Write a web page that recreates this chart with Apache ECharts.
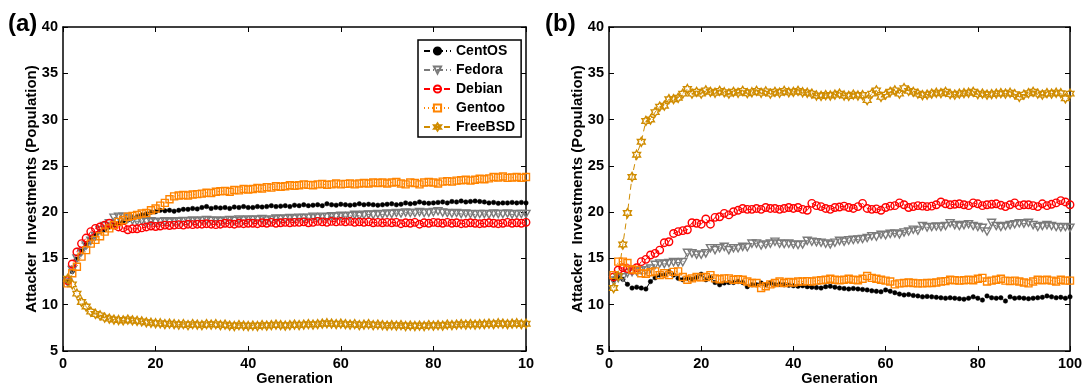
<!DOCTYPE html>
<html><head><meta charset="utf-8">
<script src="https://cdn.jsdelivr.net/npm/echarts@6/dist/echarts.min.js"></script>
<style>html,body{margin:0;padding:0;background:#fff}#c{width:1083px;height:386px}</style>
</head><body><div id="c"></div>
<script>
// ---- data (generation 1..100) ----
const seriesNames = ['CentOS','Fedora','Debian','Gentoo','FreeBSD'];
const yTicks = [5,10,15,20,25,30,35,40];
const xTicksA = [0,20,40,60,80,100];
const xTickLabelsA = ['0','20','40','60','80','10'];
const xTickLabelsB = ['0','20','40','60','80','100'];

// panel (a)
const centosA = [12.5,13.6,14.9,15.9,16.6,17.2,17.5,17.9,18.1,18.4,
18.6,18.8,19.0,19.15,19.4,19.5,19.7,19.8,20.0,20.05,
20.2,20.15,20.2,20.1,20.2,20.3,20.3,20.4,20.35,20.5,
20.6,20.4,20.5,20.45,20.5,20.4,20.55,20.5,20.6,20.5,
20.5,20.6,20.55,20.6,20.7,20.6,20.65,20.7,20.6,20.75,
20.7,20.8,20.7,20.75,20.8,20.7,20.9,20.8,20.75,20.85,
20.8,20.75,20.8,20.9,20.8,20.85,20.8,20.75,20.8,20.85,
20.9,20.8,20.85,21.0,20.9,20.95,21.1,21.0,20.95,21.0,
21.05,21.1,21.0,21.15,21.1,21.2,21.1,21.15,21.2,21.15,
21.1,21.0,21.05,20.95,21.0,21.0,21.05,21.0,21.05,21.0];
const fedoraA = [12.4,13.75,15.0,15.7,16.4,16.9,17.4,18.07,18.5,18.8,
19.4,19.5,19.5,19.3,19.1,19.0,19.05,18.95,19.0,18.9,
18.95,19.0,18.9,19.0,18.95,19.05,19.0,19.1,19.0,19.1,
19.15,19.05,19.1,19.0,19.1,19.15,19.05,19.2,19.1,19.2,
19.15,19.2,19.25,19.1,19.2,19.3,19.25,19.3,19.35,19.3,
19.4,19.35,19.4,19.5,19.4,19.5,19.45,19.55,19.5,19.6,
19.55,19.6,19.7,19.6,19.7,19.75,19.7,19.8,19.75,19.85,
19.8,19.9,19.85,19.95,19.9,19.9,20.0,19.9,19.95,20.0,
20.1,19.95,19.9,19.85,19.9,19.8,19.85,19.8,19.75,19.8,
19.8,19.75,19.85,19.8,19.8,19.85,19.75,19.8,19.8,19.8];
const debianA = [12.6,14.4,15.7,16.6,17.2,17.9,18.25,18.4,18.6,18.8,
18.6,18.4,18.3,18.1,18.2,18.2,18.3,18.4,18.5,18.45,
18.5,18.6,18.55,18.6,18.65,18.6,18.7,18.65,18.7,18.7,
18.75,18.7,18.65,18.7,18.8,18.75,18.7,18.8,18.75,18.8,
18.8,18.75,18.85,18.8,18.9,18.8,18.85,18.9,18.85,18.9,
18.9,18.95,18.85,18.9,19.0,18.95,18.9,19.0,18.95,19.0,
18.95,19.0,18.9,18.95,18.9,18.95,18.85,18.9,18.85,18.9,
18.85,18.9,18.75,18.85,18.8,18.9,18.7,18.85,18.8,18.9,
18.85,18.8,18.9,18.8,18.85,18.75,18.8,18.85,18.8,18.75,
18.8,18.85,18.8,18.75,18.8,18.9,18.8,18.85,18.8,18.9];
const gentooA = [12.3,13.4,14.1,15.2,15.9,16.6,17.0,17.4,17.9,18.25,
18.6,18.95,19.15,19.5,19.6,19.7,19.85,19.9,20.2,20.4,
20.7,21.0,21.4,21.7,21.8,21.85,21.8,21.9,21.95,22.0,
22.1,22.05,22.2,22.25,22.3,22.2,22.4,22.35,22.5,22.45,
22.5,22.6,22.55,22.7,22.65,22.8,22.75,22.8,22.9,22.85,
22.9,23.0,22.95,22.9,23.0,23.05,22.95,23.0,23.1,23.0,
23.05,23.1,23.0,23.1,23.15,23.1,23.2,23.15,23.2,23.1,
23.2,23.25,23.1,23.0,23.2,23.15,23.0,23.2,23.25,23.2,
23.1,23.3,23.35,23.3,23.4,23.45,23.5,23.4,23.5,23.6,
23.55,23.65,23.8,23.75,23.85,23.7,23.75,23.8,23.7,23.8];
const freebsdA = [12.8,12.2,11.2,10.3,9.8,9.25,9.0,8.85,8.6,8.5,
8.4,8.35,8.3,8.4,8.3,8.25,8.2,8.1,8.05,8.0,
8.0,7.9,7.95,7.9,7.85,7.9,7.8,7.9,7.85,7.8,
7.9,7.85,7.9,7.8,7.85,7.75,7.7,7.8,7.75,7.7,
7.75,7.7,7.8,7.75,7.8,7.85,7.8,7.75,7.8,7.85,
7.8,7.85,7.9,7.85,7.9,7.95,8.0,7.95,7.9,7.95,
7.9,7.85,7.9,7.8,7.85,7.9,7.8,7.85,7.8,7.75,
7.8,7.75,7.8,7.7,7.75,7.7,7.75,7.7,7.8,7.75,
7.8,7.75,7.85,7.8,7.85,7.9,7.85,7.9,7.85,7.9,
7.9,7.95,7.9,8.0,7.95,7.9,7.95,8.0,7.9,7.95];

// panel (b)
const centosB = [12.7,13.0,12.75,12.2,11.8,11.9,11.8,11.7,12.5,12.9,
13.2,13.2,13.6,13.2,12.85,12.7,12.85,12.75,12.95,13.3,
12.7,12.95,12.4,12.15,12.35,12.4,12.4,12.5,12.4,11.95,
12.15,12.15,12.35,12.15,12.35,12.15,12.2,12.15,12.1,12.05,
12.0,12.05,11.95,11.9,11.85,11.8,11.95,12.0,11.9,11.8,
11.75,11.7,11.75,11.7,11.65,11.6,11.5,11.45,11.4,11.6,
11.45,11.3,11.15,11.05,11.1,11.0,10.95,10.85,10.9,10.85,
10.8,10.75,10.7,10.75,10.7,10.65,10.6,10.7,10.85,10.7,
10.5,10.95,10.75,10.7,10.75,10.4,10.85,10.7,10.75,10.7,
10.65,10.7,10.75,10.8,10.95,10.85,10.75,10.8,10.7,10.85];
const fedoraB = [12.6,12.85,12.95,13.4,13.5,13.6,13.7,13.7,13.9,14.3,
14.45,14.4,14.5,14.6,14.55,14.6,15.6,15.55,15.4,15.4,
15.55,16.1,15.9,16.1,16.25,15.9,16.1,16.1,16.25,16.2,
16.6,16.6,16.4,16.5,16.6,16.8,16.6,16.55,16.6,16.5,
16.45,16.5,16.9,16.8,16.75,16.7,16.6,16.5,16.7,16.9,
16.8,16.95,17.0,17.05,17.1,17.2,17.4,17.35,17.55,17.5,
17.65,17.7,17.6,17.8,17.9,18.1,18.0,18.5,18.35,18.4,
18.45,18.4,18.5,18.8,18.6,18.5,18.6,18.7,18.5,18.4,
18.3,17.9,18.85,18.5,18.4,18.5,18.6,18.7,18.8,18.75,
18.85,18.6,18.4,18.5,18.6,18.5,18.4,18.35,18.4,18.3];
const debianB = [13.0,13.75,14.0,13.9,13.75,14.0,14.65,14.9,15.37,15.55,
15.9,16.7,16.8,17.7,17.9,18.0,18.1,18.86,18.8,18.7,
19.26,18.7,19.44,19.5,19.87,19.7,20.05,20.2,20.4,20.3,
20.3,20.4,20.3,20.5,20.4,20.4,20.3,20.4,20.5,20.4,
20.5,20.3,20.2,20.95,20.7,20.6,20.4,20.3,20.5,20.55,
20.65,20.5,20.4,20.6,20.95,20.4,20.3,20.35,20.2,20.5,
20.65,20.7,21.0,20.8,20.5,20.6,20.7,20.65,20.6,20.65,
20.8,21.1,20.9,20.8,20.85,20.9,20.8,20.7,21.0,20.9,
20.7,20.8,20.85,20.9,20.75,20.6,20.8,21.0,20.7,20.8,
20.8,20.7,20.6,20.9,20.7,20.85,21.0,21.24,21.1,20.8];
const gentooB = [13.2,14.65,14.65,14.5,13.8,13.75,13.4,13.35,13.5,13.6,
13.2,13.4,13.2,13.55,13.6,13.0,12.7,12.85,13.0,12.95,
13.0,13.2,12.85,12.75,12.85,12.85,12.7,12.75,12.7,12.5,
12.35,12.35,11.8,12.0,12.2,12.35,12.5,12.35,12.45,12.4,
12.5,12.5,12.55,12.5,12.6,12.65,12.7,12.8,12.7,12.65,
12.7,12.8,12.7,12.65,12.8,13.1,12.9,12.8,12.7,12.6,
12.5,12.2,12.3,12.35,12.4,12.35,12.3,12.3,12.35,12.35,
12.4,12.5,12.55,12.7,12.65,12.6,12.65,12.7,12.65,12.8,
12.9,12.5,12.6,12.7,12.8,12.6,12.55,12.6,12.5,12.4,
12.3,12.5,12.7,12.65,12.7,12.6,12.5,12.7,12.6,12.6];
const freebsdB = [11.8,13.1,16.5,19.9,23.8,26.2,27.6,29.85,30.0,30.8,
31.4,31.5,32.2,32.2,32.35,32.8,33.3,32.8,33.0,32.8,
33.15,33.0,32.9,33.1,32.95,32.8,33.0,32.9,33.1,32.85,
32.95,33.1,32.9,33.05,32.8,33.0,32.9,33.1,32.95,33.0,
33.1,32.95,32.9,32.8,32.6,32.55,32.65,32.6,32.7,32.8,
32.6,32.55,32.7,32.6,32.65,32.1,32.8,33.15,32.45,32.7,
33.0,33.15,32.8,33.4,33.1,33.0,32.8,32.65,32.7,32.8,
32.9,32.85,33.0,32.75,32.7,32.8,32.85,32.9,33.0,32.75,
32.8,32.7,32.75,32.8,32.85,32.8,32.9,32.75,32.45,32.7,
32.85,33.0,32.8,32.7,32.85,32.8,32.9,32.85,32.3,32.8];

// ---- styles ----
const FONT = '"Liberation Sans", Arial, Helvetica, sans-serif';
const TRI = 'path://M0,0 L10,0 L5,9 Z';
const HEX = 'path://M5,0 L6.443,2.5 L9.33,2.5 L7.887,5 L9.33,7.5 L6.443,7.5 L5,10 L3.557,7.5 L0.67,7.5 L2.113,5 L0.67,2.5 L3.557,2.5 Z';
const styles = {
  CentOS:  {color:'#000000', symbol:'circle', size:4.5, filled:true,  dash:[6,3,1,3]},
  Fedora:  {color:'#7a7a7a', symbol:TRI,      size:8, filled:false, dash:[6,3,1,3]},
  Debian:  {color:'#ff0000', symbol:'circle', size:7.5, filled:false, dash:[6,4]},
  Gentoo:  {color:'#ff8400', symbol:'rect',   size:7, filled:false, dash:[1,3]},
  FreeBSD: {color:'#d08c00', symbol:HEX,      size:9, filled:false, dash:[6,4]}
};

function pairs(arr){ return arr.map((v,i)=>[i+1,v]); }

function mkSeries(name, arr, gi){
  const s = styles[name];
  return {
    name, type:'line', xAxisIndex:gi*2, yAxisIndex:gi*2, data:pairs(arr),
    symbol:s.symbol, symbolSize:s.size, symbolKeepAspect:true, showAllSymbol:true,
    color:s.color,
    lineStyle:{color:s.color, width:1, type:s.dash},
    itemStyle:{color: s.filled ? s.color : 'rgba(255,255,255,0)', borderColor:s.color, borderWidth: s.filled?0.5:1.4},
    emphasis:{disabled:true}, animation:false, z: 2
  };
}

function xAxes(gi, labels){
  return [
    {type:'value', gridIndex:gi, min:0, max:100, interval:20, position:'bottom',
     name:'Generation', nameLocation:'middle', nameGap:20, nameMoveOverlap:false,
     nameTextStyle:{fontFamily:FONT, fontWeight:'bold', fontSize:14.5, color:'#000'},
     axisLine:{onZero:false, lineStyle:{color:'#000', width:1.5}},
     axisTick:{inside:true, length:5, lineStyle:{color:'#000', width:1}},
     axisLabel:{fontFamily:FONT, fontWeight:'bold', fontSize:14.5, color:'#000', margin:5,
       formatter:(v)=>labels[xTicksA.indexOf(v)]},
     splitLine:{show:false}},
    {type:'value', gridIndex:gi, min:0, max:100, interval:20, position:'top',
     axisLine:{onZero:false, lineStyle:{color:'#000', width:1.5}},
     axisTick:{inside:true, length:5, lineStyle:{color:'#000', width:1}},
     axisLabel:{show:false}, splitLine:{show:false}}
  ];
}
function yAxes(gi){
  return [
    {type:'value', gridIndex:gi, min:5, max:40, interval:5, position:'left',
     name:'Attacker  Investments (Population)', nameLocation:'middle', nameGap:24, nameMoveOverlap:false,
     nameTextStyle:{fontFamily:FONT, fontWeight:'bold', fontSize:15, color:'#000'},
     axisLine:{onZero:false, lineStyle:{color:'#000', width:1.5}},
     axisTick:{inside:true, length:5, lineStyle:{color:'#000', width:1}},
     axisLabel:{fontFamily:FONT, fontWeight:'bold', fontSize:14.5, color:'#000', margin:5,
       formatter:(v)=> yTicks.includes(v) ? String(v) : ''},
     splitLine:{show:false}},
    {type:'value', gridIndex:gi, min:5, max:40, interval:5, position:'right',
     axisLine:{onZero:false, lineStyle:{color:'#000', width:1.5}},
     axisTick:{inside:true, length:5, lineStyle:{color:'#000', width:1}},
     axisLabel:{show:false}, splitLine:{show:false}}
  ];
}

const chart = echarts.init(document.getElementById('c'), null, {renderer:'canvas'});
const dataA = {CentOS:centosA, Fedora:fedoraA, Debian:debianA, Gentoo:gentooA, FreeBSD:freebsdA};
const dataB = {CentOS:centosB, Fedora:fedoraB, Debian:debianB, Gentoo:gentooB, FreeBSD:freebsdB};
const series = [];
seriesNames.forEach(n=>series.push(mkSeries(n, dataA[n], 0)));
seriesNames.forEach(n=>{ const s = mkSeries(n, dataB[n], 1); s.name = n + ' '; series.push(s); });

chart.setOption({
  backgroundColor:'#fff',
  animation:false,
  grid:[
    {left:63, right:557, top:27, bottom:35, containLabel:false, outerBoundsMode:'none'},
    {left:609, right:13, top:27, bottom:35, containLabel:false, outerBoundsMode:'none'}
  ],
  xAxis:[...xAxes(0, xTickLabelsA), ...xAxes(1, xTickLabelsB)],
  yAxis:[...yAxes(0), ...yAxes(1)],
  legend:{
    data:seriesNames, orient:'vertical', left:418, top:40,
    backgroundColor:'#fff', borderColor:'#000', borderWidth:1.5, borderRadius:0,
    padding:[4,6,3,5], itemGap:5, itemWidth:27, itemHeight:9,
    textStyle:{fontFamily:FONT, fontWeight:'bold', fontSize:14, lineHeight:14, color:'#000'},
    selectedMode:false
  },
  graphic:[
    {type:'text', left:8, top:12, style:{text:'(a)', font:'bold 24px '+FONT, fill:'#000'}},
    {type:'text', left:545, top:12, style:{text:'(b)', font:'bold 24px '+FONT, fill:'#000'}}
  ],
  series
});
</script></body></html>
